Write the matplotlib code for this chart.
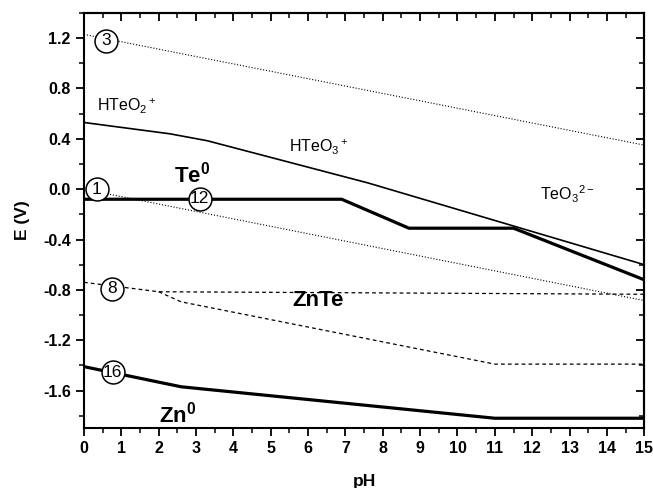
import matplotlib
matplotlib.use("Agg")
import matplotlib.pyplot as plt
from matplotlib.ticker import MultipleLocator, FormatStrFormatter

plt.rcParams['font.family'] = ['Liberation Sans', 'DejaVu Sans']
plt.rcParams['mathtext.default'] = 'regular'

# Stabilitaetsgrenzen (pH, E in V)
ph_o2 = [0, 15]
e_o2 = [1.23, 0.35]

ph_h2 = [0, 15]
e_h2 = [0.0, -0.885]

ph_hteo2 = [0, 2.3, 3.3, 7.6, 15]
e_hteo2 = [0.53, 0.44, 0.385, 0.05, -0.60]

ph_te = [0, 6.9, 8.7, 11.5, 15]
e_te = [-0.08, -0.08, -0.31, -0.31, -0.72]

ph_znte_a = [0, 2.0, 15]
e_znte_a = [-0.74, -0.815, -0.835]
ph_znte_b = [2.0, 2.6, 11.0, 15]
e_znte_b = [-0.815, -0.895, -1.39, -1.39]

ph_zn = [0, 2.6, 11.0, 15]
e_zn = [-1.41, -1.57, -1.82, -1.82]

# Kreisnummern: (Text, pH, E)
marks = [("3", 0.6, 1.18), ("1", 0.34, 0.0), ("12", 3.1, -0.075),
         ("8", 0.74, -0.79), ("16", 0.77, -1.455)]

yt = [1.2, 0.8, 0.4, 0.0, -0.4, -0.8, -1.2, -1.6]

fig = plt.figure(figsize=(6.53, 4.88), dpi=100)
ax = fig.add_axes([0.1286, 0.1236, 0.858, 0.8498])

ax.plot(ph_o2, e_o2, ':', color='black', lw=0.8)
ax.plot(ph_h2, e_h2, ':', color='black', lw=0.8)
ax.plot(ph_hteo2, e_hteo2, '-', color='black', lw=1.2)
ax.plot(ph_te, e_te, '-', color='black', lw=2.3)
ax.plot(ph_znte_a, e_znte_a, '--', color='black', lw=0.9, dashes=(3, 2.5))
ax.plot(ph_znte_b, e_znte_b, '--', color='black', lw=0.9, dashes=(3, 2.5))
ax.plot(ph_zn, e_zn, '-', color='black', lw=2.3)

for txt, x, y in marks:
    ax.plot(x, y, 'o', ms=16.5, mfc='white', mec='black', mew=1.1, zorder=4)
    ax.text(x, y, txt, ha='center', va='center', fontsize=12.5, zorder=5)

ax.text(0.35, 0.62, r'HTeO$_2$$^+$', fontsize=11.5)
ax.text(5.5, 0.29, r'HTeO$_3$$^+$', fontsize=11.5)
ax.text(12.2, -0.09, r'TeO$_3$$^{2-}$', fontsize=11.5)
ax.text(2.4, 0.05, r'Te$^0$', fontsize=16, fontweight='bold')
ax.text(5.57, -0.93, 'ZnTe', fontsize=16, fontweight='bold')
ax.text(2.0, -1.85, r'Zn$^0$', fontsize=16, fontweight='bold')

ax.set_xlim(0, 15)
ax.set_ylim(-1.895, 1.4)
ax.xaxis.set_major_locator(MultipleLocator(1))
ax.xaxis.set_minor_locator(MultipleLocator(0.5))
ax.yaxis.set_minor_locator(MultipleLocator(0.2))
ax.set_yticks(yt)
ax.yaxis.set_major_formatter(FormatStrFormatter('%.1f'))

ax.tick_params(which='major', direction='out', length=6, width=1.3, labelsize=11.5)
ax.tick_params(which='minor', direction='out', length=3.5, width=1.1)
for lab in ax.get_xticklabels() + ax.get_yticklabels():
    lab.set_fontweight('bold')

# Innen liegende Ticks oben und rechts
top = ax.secondary_xaxis('top')
top.xaxis.set_major_locator(MultipleLocator(1))
top.xaxis.set_minor_locator(MultipleLocator(0.5))
top.tick_params(which='major', direction='in', length=6, width=1.3, labeltop=False)
top.tick_params(which='minor', direction='in', length=3.5, width=1.1)
right = ax.secondary_yaxis('right')
right.yaxis.set_minor_locator(MultipleLocator(0.2))
right.set_yticks(yt)
right.tick_params(which='major', direction='in', length=6, width=1.3, labelright=False)
right.tick_params(which='minor', direction='in', length=3.5, width=1.1)

for sp in list(ax.spines.values()) + list(top.spines.values()) + list(right.spines.values()):
    sp.set_linewidth(1.5)

ax.set_xlabel('pH', fontsize=12.5, fontweight='bold', labelpad=13)
ax.set_ylabel('E (V)', fontsize=12.5, fontweight='bold', labelpad=9)

fig.savefig('out.png', dpi=100)
